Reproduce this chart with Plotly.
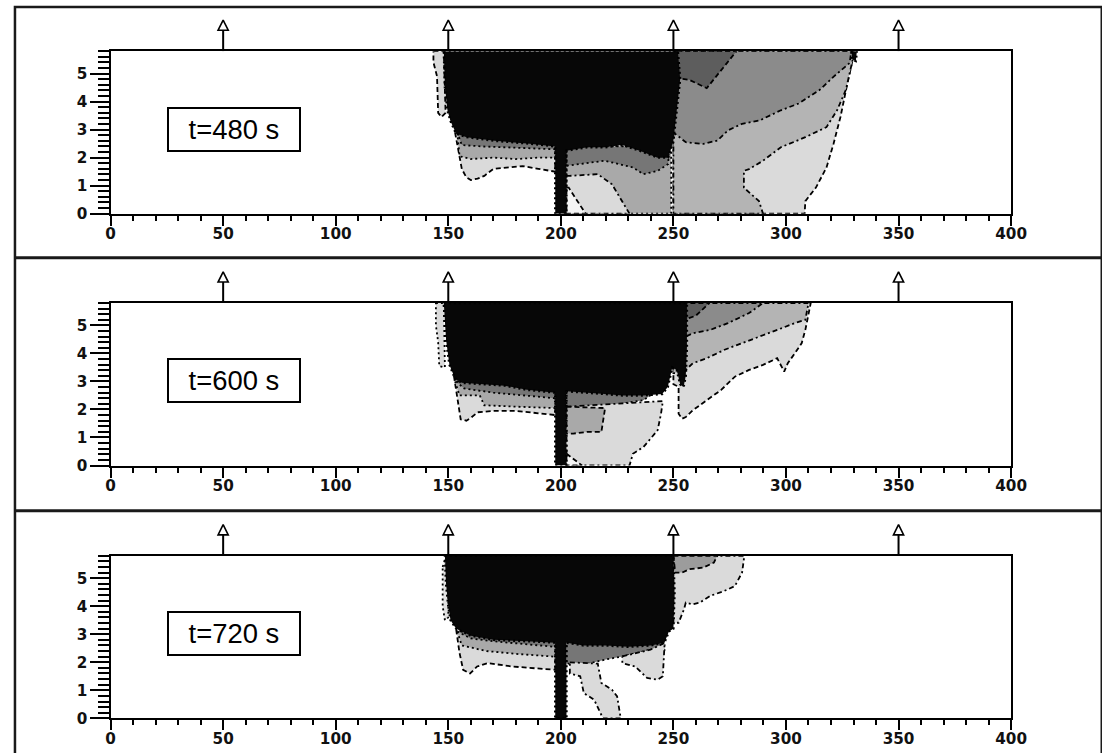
import plotly.graph_objects as go

# ---------------- data ----------------
x_ticks = [0, 50, 100, 150, 200, 250, 300, 350, 400]
x_minor = list(range(0, 401, 10))
y_ticks = [0, 1, 2, 3, 4, 5]
tunnel_height = 5.8
y_minor = [round(0.2 * i, 1) for i in range(0, 30)]
shaft_x = [50, 150, 250, 350]
time_labels = ["t=480 s", "t=600 s", "t=720 s"]

# shades (from darkest to lightest)
c_black = "#070707"
c_dark = "#5d5d5d"
c_band = "#767676"
c_mid = "#8b8b8b"
c_grey = "#a9a9a9"
c_light = "#b4b4b4"
c_pale = "#dadada"
c_white = "#f5f5f5"

# ---- t = 480 s ----
r480_far_x = [250, 330.5, 327.3, 324.2, 321.1, 318, 313.3, 308.6, 308.3, 250]
r480_far_y = [5.8, 5.8, 4.66, 3.45, 2.49, 1.65, 0.93, 0.45, 0, 0]
r480_mid_x = [250, 330.5, 326.6, 322.7, 318, 308.6, 297.7, 289.8, 283.6, 281.3, 281.3, 288, 289.8, 250]
r480_mid_y = [5.8, 5.8, 4.42, 3.69, 3.09, 2.73, 2.37, 1.89, 1.59, 1.53, 0.93, 0.45, 0, 0]
r480_near_x = [250, 329, 328.3, 321.3, 315, 305.6, 297.7, 288.4, 280.5, 274.2, 269.5, 263.3, 255.5, 250.8, 250]
r480_near_y = [5.8, 5.8, 5.38, 4.9, 4.42, 3.93, 3.69, 3.33, 3.21, 2.97, 2.61, 2.49, 2.55, 2.85, 2.85]
r480_core_x = [251.6, 278, 264.8, 257, 251.6]
r480_core_y = [5.8, 5.8, 4.48, 4.78, 4.84]
u480_grey_x = [202.5, 249, 249, 202.5]
u480_grey_y = [2.4, 2.4, 0, 0]
u480_light_x = [202.5, 203.9, 216.4, 222.7, 230.5, 202.5]
u480_light_y = [1.35, 1.35, 1.41, 1.05, 0, 0]
u480_white_x = [202.5, 203.5, 211, 202.5]
u480_white_y = [0.93, 0.93, 0, 0]
u480_band_x = [202.5, 248, 247.7, 243, 236.7, 232, 219.5, 208.6, 202.5]
u480_band_y = [2.4, 2.4, 1.77, 1.53, 1.41, 1.65, 1.89, 1.77, 1.71]
l480_light_x = [153, 154, 156, 158, 160, 163, 166, 170, 176, 183, 190, 196, 197.5, 197.5]
l480_light_y = [2.9, 2.5, 1.6, 1.3, 1.2, 1.25, 1.35, 1.6, 1.65, 1.7, 1.6, 1.5, 1.5, 2.9]
l480_grey_x = [154, 155, 160, 170, 180, 190, 197.5, 197.5]
l480_grey_y = [2.9, 2.05, 1.95, 2.0, 1.95, 2.0, 2.0, 2.9]
l480_dark_x = [154, 156, 165, 180, 197.5, 197.5]
l480_dark_y = [2.9, 2.45, 2.4, 2.35, 2.3, 2.9]
l480_edge_x = [143.4, 148, 148.8, 147, 145.5, 145, 143.4]
l480_edge_y = [5.8, 5.8, 3.6, 3.45, 3.6, 4.9, 5.4]
k480_x = [148, 252, 253, 251.5, 250, 247.7, 243, 235, 227.3, 219.5, 211.7, 202.5, 202.5,
          197.5, 197.5, 186.2, 170.6, 158.2, 153.5, 151, 149.6, 148.5]
k480_y = [5.8, 5.8, 4.8, 3.7, 2.6, 2.0, 2.0, 2.25, 2.45, 2.37, 2.37, 2.25, 0,
          0, 2.4, 2.5, 2.6, 2.73, 2.85, 3.3, 3.7, 4.5]
t480_x = [329, 331.5, 331, 329.5]
t480_y = [5.8, 5.8, 5.45, 5.5]

# ---- t = 600 s ----
r600_far_x = [250, 311, 308.6, 307, 303.9, 300.8, 299.2, 296.1, 289.8, 283.6, 277.3, 271.1,
              264.8, 258.6, 255.5, 253.9, 252.3, 252.3, 250]
r600_far_y = [5.8, 5.8, 4.84, 4.37, 4.0, 3.65, 3.35, 3.83, 3.59, 3.41, 3.17, 2.69,
              2.33, 1.97, 1.73, 1.67, 1.85, 2.81, 2.9]
r600_mid_x = [250, 310, 308.6, 303.9, 296.1, 288.3, 280.5, 272.7, 264.8, 258.6, 255.5, 252, 250]
r600_mid_y = [5.8, 5.8, 5.2, 5.08, 4.84, 4.6, 4.37, 4.13, 3.83, 3.65, 3.41, 3.3, 3.3]
r600_near_x = [250, 289.8, 283.6, 274.2, 266.4, 258.6, 255.5, 250]
r600_near_y = [5.8, 5.8, 5.44, 5.08, 4.84, 4.72, 4.6, 4.6]
r600_core_x = [254, 266, 260, 255]
r600_core_y = [5.8, 5.8, 5.35, 5.2]
u600_band_x = [202.5, 246.1, 243, 236.7, 227.3, 219.5, 203.9, 202.5]
u600_band_y = [2.7, 2.85, 2.69, 2.33, 2.21, 2.03, 2.09, 2.09]
u600_light_x = [202.5, 245.3, 244.5, 243, 236.7, 232, 230.5, 202.5]
u600_light_y = [2.1, 2.3, 1.85, 1.26, 0.66, 0.42, 0, 0]
u600_grey_x = [202.5, 219.5, 219.5, 218, 211.7, 205.5, 202.5]
u600_grey_y = [2.1, 2.05, 1.97, 1.2, 1.2, 1.14, 1.14]
u600_white_x = [202.5, 209.4, 202.5]
u600_white_y = [0.42, 0, 0]
l600_light_x = [152.5, 154, 155.5, 158, 160, 163, 170, 180, 190, 197.5, 197.5]
l600_light_y = [3.2, 2.4, 1.65, 1.6, 1.7, 1.9, 1.95, 1.95, 1.85, 1.8, 3.0]
l600_grey_x = [153, 155, 164, 166, 180, 197.5, 197.5]
l600_grey_y = [3.0, 2.5, 2.5, 2.15, 2.1, 2.05, 3.0]
l600_dark_x = [153.5, 157, 170, 185, 197.5, 197.5]
l600_dark_y = [3.0, 2.75, 2.6, 2.5, 2.4, 3.0]
l600_edge_x = [144.5, 148, 148.5, 146, 145.5, 144.5]
l600_edge_y = [5.8, 5.8, 3.5, 3.55, 4.4, 5.0]
k600_x = [148, 256, 256, 255.5, 254.5, 253, 251.5, 249.5, 247.5, 245, 236.7, 227.3, 219.5,
          211.7, 202.5, 202.5, 197.5, 197.5, 185, 175, 165, 156, 153, 150.5, 149]
k600_y = [5.8, 5.8, 4.2, 3.2, 2.8, 2.9, 3.4, 3.5, 2.8, 2.55, 2.5, 2.5, 2.55,
          2.6, 2.65, 0, 0, 2.6, 2.7, 2.85, 2.9, 2.95, 3.1, 3.6, 4.5]

# ---- t = 720 s ----
r720_far_x = [250, 281.3, 281.3, 280.5, 277.3, 272.7, 266.4, 261.7, 258.6, 255.5, 254.7, 252.3, 250]
r720_far_y = [5.8, 5.8, 5.68, 5.2, 4.72, 4.55, 4.37, 4.13, 4.07, 4.13, 3.89, 3.41, 3.41]
r720_near_x = [250, 269.5, 268, 263.3, 257, 253.9, 250.8]
r720_near_y = [5.8, 5.8, 5.56, 5.38, 5.32, 5.2, 5.2]
u720_band_x = [202.5, 246, 246, 239.8, 233.6, 227.3, 220, 212, 202.5]
u720_band_y = [2.75, 2.9, 2.35, 2.45, 2.33, 2.21, 2.1, 1.95, 1.95]
u720_branch_x = [204, 216.4, 218, 222.7, 225, 225.8, 226.6, 218.7, 214.8, 210.2, 208.6, 204]
u720_branch_y = [2.0, 1.95, 1.26, 1.02, 0.78, 0.42, 0, 0, 0.66, 0.9, 1.5, 1.6]
u720_side_x = [227.3, 233.6, 239.8, 246.1, 245.3, 243, 238.3, 233, 227.3]
u720_side_y = [2.21, 2.33, 2.45, 2.69, 1.5, 1.38, 1.44, 1.85, 1.97]
l720_light_x = [153.5, 155, 156.6, 159.7, 162.8, 167.5, 178.4, 197.5, 197.5]
l720_light_y = [3.17, 2.33, 1.73, 1.6, 1.85, 1.97, 1.85, 1.73, 3.0]
l720_grey_x = [154, 156, 167, 180, 197.5, 197.5]
l720_grey_y = [3.1, 2.6, 2.4, 2.3, 2.2, 3.0]
l720_dark_x = [154, 160, 170, 185, 197.5, 197.5]
l720_dark_y = [3.1, 2.85, 2.75, 2.65, 2.55, 3.0]
l720_edge_x = [147.5, 149, 150, 150, 148.5, 147.5]
l720_edge_y = [5.4, 5.8, 5.8, 3.6, 3.5, 4.0]
k720_x = [148.5, 250, 250.5, 250, 248, 246, 240, 230, 220, 210, 202.5, 202.5,
          197.5, 197.5, 185, 170, 160, 153.5, 151, 150, 149]
k720_y = [5.8, 5.8, 4.5, 3.2, 3.1, 2.7, 2.6, 2.55, 2.6, 2.6, 2.7, 0,
          0, 2.7, 2.75, 2.8, 2.95, 3.2, 3.5, 4.0, 4.8]

DASH = "5px,3px"
DASHDOT = "5px,3px,2px,3px"
DOT = "2px,3px"

panels = [
    [
        (r480_far_x, r480_far_y, c_pale, DASH),
        (r480_mid_x, r480_mid_y, c_light, DASHDOT),
        (r480_near_x, r480_near_y, c_mid, DASHDOT),
        (r480_core_x, r480_core_y, c_dark, DASH),
        (u480_grey_x, u480_grey_y, c_grey, DOT),
        (u480_light_x, u480_light_y, c_pale, DASHDOT),
        (u480_white_x, u480_white_y, c_white, DASH),
        (u480_band_x, u480_band_y, c_band, DOT),
        (l480_light_x, l480_light_y, c_pale, DASH),
        (l480_grey_x, l480_grey_y, c_grey, DOT),
        (l480_dark_x, l480_dark_y, c_band, DOT),
        (l480_edge_x, l480_edge_y, c_pale, DASH),
        (k480_x, k480_y, c_black, DOT),
        (t480_x, t480_y, c_black, DOT),
    ],
    [
        (r600_far_x, r600_far_y, c_pale, DASH),
        (r600_mid_x, r600_mid_y, c_light, DASHDOT),
        (r600_near_x, r600_near_y, c_mid, DASHDOT),
        (r600_core_x, r600_core_y, c_dark, DASH),
        (u600_band_x, u600_band_y, c_band, DOT),
        (u600_light_x, u600_light_y, c_pale, DASHDOT),
        (u600_grey_x, u600_grey_y, c_grey, DASH),
        (u600_white_x, u600_white_y, c_white, DASH),
        (l600_light_x, l600_light_y, c_pale, DASH),
        (l600_grey_x, l600_grey_y, c_grey, DOT),
        (l600_dark_x, l600_dark_y, c_band, DOT),
        (l600_edge_x, l600_edge_y, c_pale, DOT),
        (k600_x, k600_y, c_black, DOT),
    ],
    [
        (r720_far_x, r720_far_y, c_pale, DASHDOT),
        (r720_near_x, r720_near_y, "#9c9c9c", DASH),
        (u720_band_x, u720_band_y, c_band, DOT),
        (u720_branch_x, u720_branch_y, c_pale, DASHDOT),
        (u720_side_x, u720_side_y, c_pale, DASHDOT),
        (l720_light_x, l720_light_y, c_pale, DASH),
        (l720_grey_x, l720_grey_y, c_grey, DOT),
        (l720_dark_x, l720_dark_y, c_band, DOT),
        (l720_edge_x, l720_edge_y, "#e2e2e2", DOT),
        (k720_x, k720_y, c_black, DOT),
    ],
]

# ---------------- layout geometry (pixels of the 1102x753 target) ----------------
S = 1.0152               # page is rendered slightly reduced; pre-compensate
W, H = round(1102 * S), round(753 * S)
plot_left, plot_right = 106 * S, 1010 * S
plot_tops = [51 * S, 302 * S, 554 * S]
plot_h = 162 * S
shaft_zone = 36 * S
box_left, box_right = 10 * S, 1101 * S
box_lines = [7 * S, 257 * S, 509 * S]

fig = go.Figure()
tick_font = dict(family="DejaVu Sans, Liberation Sans, sans-serif", size=15 * S, color="#111",
                 weight="bold")

for i, regions in enumerate(panels):
    n = i + 1
    xa = "x" if i == 0 else f"x{n}"
    ya = "y" if i == 0 else f"y{n}"
    ya_arrow = f"y{n + 3}"
    for xs, ys, col, dash in regions:
        fig.add_trace(go.Scatter(
            x=list(xs) + [xs[0]], y=list(ys) + [ys[0]],
            mode="lines", fill="toself", fillcolor=col,
            line=dict(color="#000", width=1.8 if col != c_black else 2.4, dash=dash),
            hoverinfo="skip", showlegend=False, xaxis=xa, yaxis=ya))
    # shafts: stems and open arrowheads above the ceiling
    for sx in shaft_x:
        fig.add_trace(go.Scatter(
            x=[sx, sx], y=[0, 21], mode="lines", line=dict(color="#000", width=2),
            hoverinfo="skip", showlegend=False, xaxis=xa, yaxis=ya_arrow))
    fig.add_trace(go.Scatter(
        x=shaft_x, y=[31] * len(shaft_x), mode="markers", cliponaxis=False,
        marker=dict(symbol="arrow-up", size=10 * S, color="white",
                    line=dict(color="#000", width=1.6)),
        hoverinfo="skip", showlegend=False, xaxis=xa, yaxis=ya_arrow))

    top = plot_tops[i]
    bottom = top + plot_h
    xkey = "xaxis" if i == 0 else f"xaxis{n}"
    ykey = "yaxis" if i == 0 else f"yaxis{n}"
    fig.layout[xkey] = dict(
        domain=[plot_left / W, plot_right / W], anchor=ya, range=[0, 400],
        tickmode="array", tickvals=x_ticks, ticks="outside", ticklen=10 * S, tickwidth=2,
        tickcolor="#000", showline=True, linewidth=2, linecolor="#000", mirror=True,
        showgrid=False, zeroline=False, tickfont=tick_font, fixedrange=True,
        ticklabelstandoff=-5,
        minor=dict(tickmode="array", tickvals=x_minor, ticks="outside", ticklen=5 * S,
                   tickwidth=2, tickcolor="#000"))
    fig.layout[ykey] = dict(
        domain=[1 - bottom / H, 1 - top / H], anchor=xa, range=[0, tunnel_height],
        tickmode="array", tickvals=y_ticks, ticks="outside", ticklen=18 * S, tickwidth=2,
        tickcolor="#000", showline=True, linewidth=2, linecolor="#000", mirror=True,
        showgrid=False, zeroline=False, tickfont=tick_font, fixedrange=True,
        minor=dict(tickmode="array", tickvals=y_minor, ticks="outside", ticklen=10 * S,
                   tickwidth=1.5, tickcolor="#000"))
    fig.layout[f"yaxis{n + 3}"] = dict(
        domain=[1 - top / H, 1 - (top - shaft_zone) / H], anchor=xa, range=[0, 36],
        visible=False, fixedrange=True)
    fig.add_annotation(
        text=time_labels[i], xref=f"{xa} domain", yref=f"{ya} domain",
        x=0.137, y=0.52, showarrow=False, xanchor="center", yanchor="middle",
        font=dict(family="Liberation Sans, Arial, sans-serif", size=27 * S, color="#000"),
        width=126 * S, height=38 * S, align="center",
        bordercolor="#000", borderwidth=2, borderpad=1, bgcolor="white")

# outer panel frames
shapes = [dict(type="rect", xref="paper", yref="paper",
               x0=box_left / W, x1=box_right / W, y0=-0.05, y1=1 - box_lines[0] / H,
               line=dict(color="#1a1a1a", width=2.5), layer="below")]
for yl in box_lines[1:]:
    shapes.append(dict(type="line", xref="paper", yref="paper",
                       x0=box_left / W, x1=box_right / W, y0=1 - yl / H, y1=1 - yl / H,
                       line=dict(color="#1a1a1a", width=3)))
fig.update_layout(
    width=W, height=H, margin=dict(l=0, r=0, t=0, b=0),
    paper_bgcolor="white", plot_bgcolor="white", shapes=shapes, showlegend=False)

fig.write_html(
    "out.html",
    config={"displayModeBar": False, "responsive": False},
    post_script="document.documentElement.style.overflow='hidden';"
                "document.body.style.margin='0px';document.body.style.overflow='hidden';")
